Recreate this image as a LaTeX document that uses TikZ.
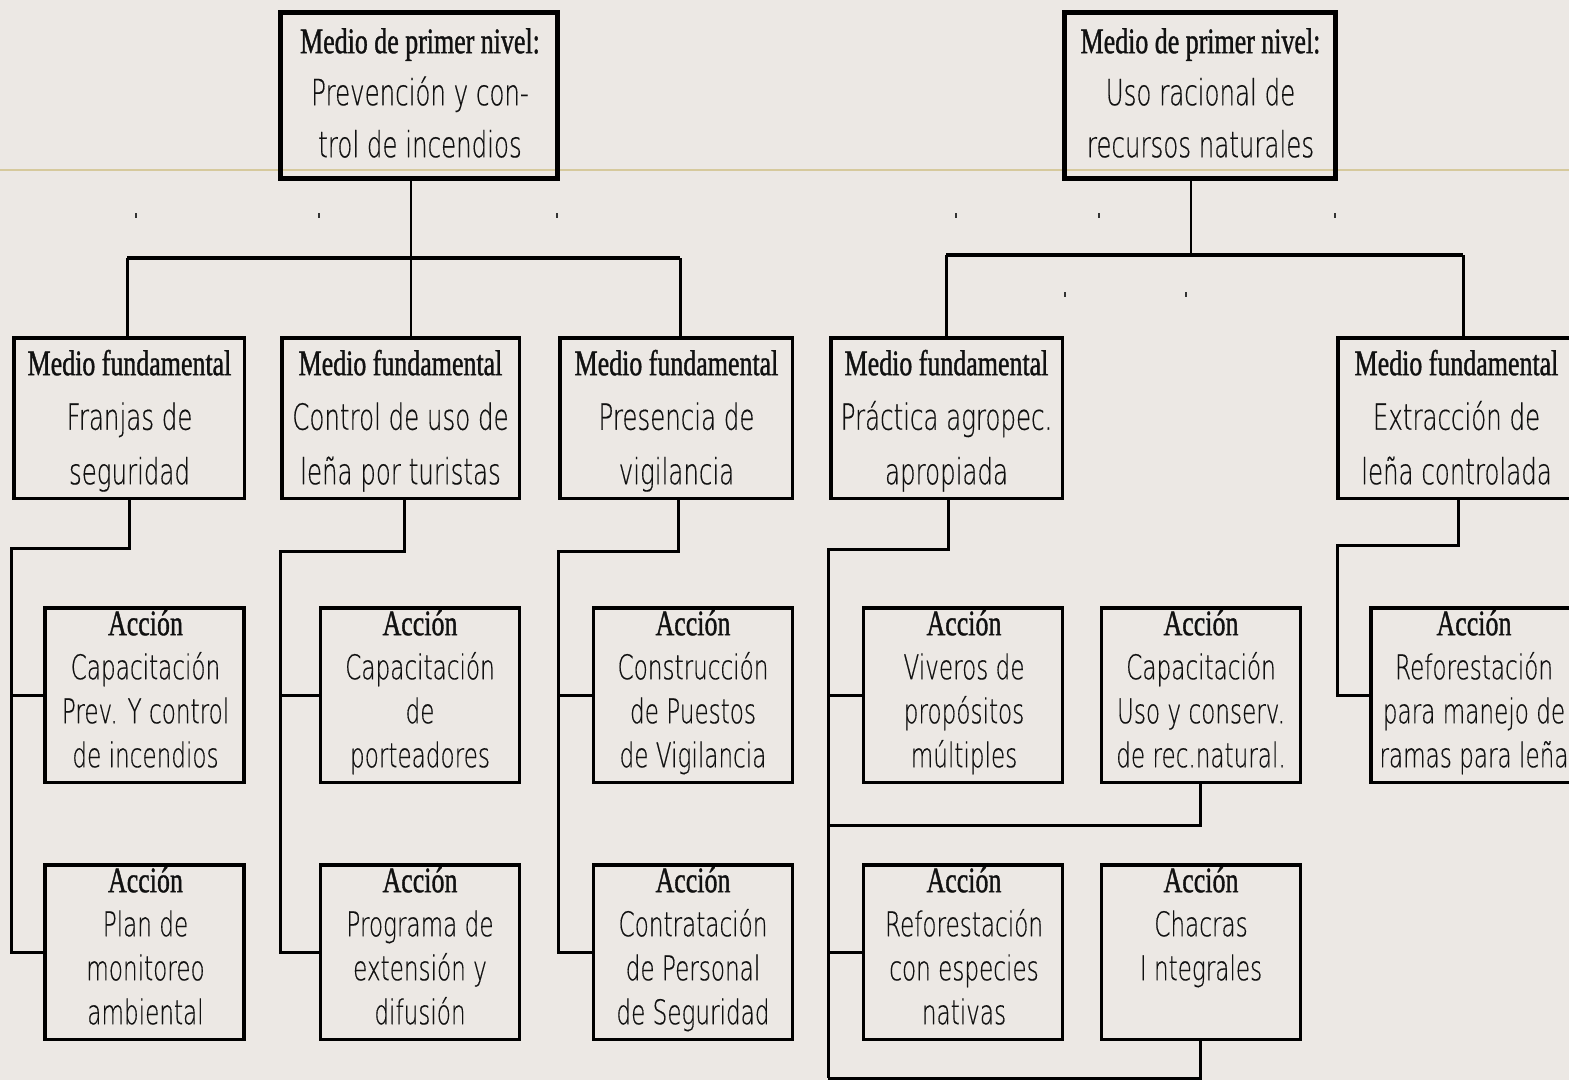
\documentclass[tikz,border=0pt]{standalone}
\usepackage{fontspec}
\IfFontExistsTF{DejaVu Sans ExtraLight}{\newfontfamily\bodyf[FakeStretch=0.68,FakeBold=0.4]{DejaVu Sans ExtraLight}}{\newfontfamily\bodyf[FakeStretch=0.68]{DejaVu Sans}}
\newfontfamily\headf[FakeStretch=0.72,FakeBold=1]{Liberation Serif}
\definecolor{bg}{HTML}{ECE8E4}
\definecolor{rulecol}{HTML}{D6C99C}
\definecolor{ink}{HTML}{111111}
\newcommand{\hd}[1]{{\headf\fontsize{36}{44}\selectfont #1}}
\begin{document}
\begin{tikzpicture}[x=1pt,y=-1pt,
  topbox/.style={draw=black,line width=5pt,inner sep=0pt},
  mfbox/.style={draw=black,line width=3.5pt,inner sep=0pt,minimum height=160.5pt},
  actbox/.style={draw=black,line width=3.5pt,inner sep=0pt,minimum height=174.5pt,minimum width=199pt},
  conn/.style={draw=black,line width=3pt},
  thinconn/.style={draw=black,line width=2.2pt},
  tickmark/.style={draw=black!80,line width=1.3pt},
  toptxt/.style={anchor=north,inner sep=0pt,align=center,text=ink,font=\bodyf\fontsize{36}{52}\selectfont},
  mftxt/.style={anchor=north,inner sep=0pt,align=center,text=ink,font=\bodyf\fontsize{36}{54.5}\selectfont},
  acttxt/.style={anchor=north,inner sep=0pt,align=center,text=ink,font=\bodyf\fontsize{34}{44}\selectfont}
]
\useasboundingbox (0,0) rectangle (1569,1080);
\fill[bg] (0,0) rectangle (1569,1080);
\clip (0,0) rectangle (1569,1080);
\draw[rulecol,line width=1.5pt] (0,170) -- (1569,170);

% tick marks
\draw[tickmark] (136,213) -- ++(0,5);
\draw[tickmark] (319,213) -- ++(0,5);
\draw[tickmark] (557,213) -- ++(0,5);
\draw[tickmark] (956,213) -- ++(0,5);
\draw[tickmark] (1099,213) -- ++(0,5);
\draw[tickmark] (1335,213) -- ++(0,5);
\draw[tickmark] (1065,292) -- ++(0,5);
\draw[tickmark] (1186,292) -- ++(0,5);

% top boxes
\node[topbox,minimum width=277pt,minimum height=166pt] (tl) at (419,95.5) {};
\node[topbox,minimum width=271pt,minimum height=166pt] (tr) at (1200,95.5) {};
\node[toptxt] (tlt) at (420,23) {\rule{0pt}{30pt}{\headf Medio de primer nivel:}\\Prevención y con-\\trol de incendios};
\node[toptxt] (trt) at (1200.5,23) {\rule{0pt}{30pt}{\headf Medio de primer nivel:}\\Uso racional de\\recursos naturales};

% medio fundamental boxes
\node[mfbox,minimum width=230.5pt] (mf1) at (129,418) {};
\node[mfbox,minimum width=237.5pt] (mf2) at (400.5,418) {};
\node[mfbox,minimum width=232.5pt] (mf3) at (676,418) {};
\node[mfbox,minimum width=231.5pt] (mf4) at (946.5,418) {};
\node[mfbox,minimum width=238.5pt] (mf5) at (1457,418) {};
\node[mftxt] (mf1t) at (129.5,345) {\rule{0pt}{30pt}{\headf Medio fundamental}\\Franjas de\\seguridad};
\node[mftxt] (mf2t) at (400.5,345) {\rule{0pt}{30pt}{\headf Medio fundamental}\\Control de uso de\\leña por turistas};
\node[mftxt] (mf3t) at (676.5,345) {\rule{0pt}{30pt}{\headf Medio fundamental}\\Presencia de\\vigilancia};
\node[mftxt] (mf4t) at (946.5,345) {\rule{0pt}{30pt}{\headf Medio fundamental}\\Práctica agropec.\\apropiada};
\node[mftxt] (mf5t) at (1456.5,345) {\rule{0pt}{30pt}{\headf Medio fundamental}\\Extracción de\\leña controlada};

% action boxes
\node[actbox] (a11) at (144.5,695) {};
\node[actbox] (a12) at (144.5,952) {};
\node[actbox] (a21) at (420,695) {};
\node[actbox] (a22) at (420,952) {};
\node[actbox] (a31) at (693,695) {};
\node[actbox] (a32) at (693,952) {};
\node[actbox] (a41) at (963,695) {};
\node[actbox] (a42) at (963,952) {};
\node[actbox] (a43) at (1201,695) {};
\node[actbox] (a44) at (1201,952) {};
\node[actbox,minimum width=205.5pt] (a5) at (1473.5,695) {};

\node[acttxt] (a11t) at (145.5,605) {\rule{0pt}{30pt}\hd{Acción}\\Capacitación\\Prev. Y control\\de incendios};
\node[acttxt] (a12t) at (145.5,862) {\rule{0pt}{30pt}\hd{Acción}\\Plan de\\monitoreo\\ambiental};
\node[acttxt] (a21t) at (420,605) {\rule{0pt}{30pt}\hd{Acción}\\Capacitación\\de\\porteadores};
\node[acttxt] (a22t) at (420,862) {\rule{0pt}{30pt}\hd{Acción}\\Programa de\\extensión y\\difusión};
\node[acttxt] (a31t) at (693,605) {\rule{0pt}{30pt}\hd{Acción}\\Construcción\\de Puestos\\de Vigilancia};
\node[acttxt] (a32t) at (693,862) {\rule{0pt}{30pt}\hd{Acción}\\Contratación\\de Personal\\de Seguridad};
\node[acttxt] (a41t) at (964,605) {\rule{0pt}{30pt}\hd{Acción}\\Viveros de\\propósitos\\múltiples};
\node[acttxt] (a42t) at (964,862) {\rule{0pt}{30pt}\hd{Acción}\\Reforestación\\con especies\\nativas};
\node[acttxt] (a43t) at (1201,605) {\rule{0pt}{30pt}\hd{Acción}\\Capacitación\\Uso y conserv.\\de rec.natural.};
\node[acttxt] (a44t) at (1201,862) {\rule{0pt}{30pt}\hd{Acción}\\Chacras\\I ntegrales};
\node[acttxt] (a5t) at (1474,605) {\rule{0pt}{30pt}\hd{Acción}\\Reforestación\\para manejo de\\ramas para leña};

% top connectors, left tree
\coordinate (hla) at (127,258);
\coordinate (hlb) at (680,258);
\coordinate (hlc) at (411,258);
\draw[conn,line width=3.2pt] (hla) -- (hlb);
\draw[thinconn] (tl.south -| hlc) -- (mf2.north -| hlc);
\draw[conn] (hla) -- (mf1.north -| hla);
\draw[conn] (hlb) -- (mf3.north -| hlb);

% top connectors, right tree
\coordinate (hra) at (946,255);
\coordinate (hrb) at (1463,255);
\coordinate (hrc) at (1191,255);
\draw[conn,line width=3.6pt] (hra) -- (hrb);
\draw[thinconn] (tr.south -| hrc) -- (hrc);
\draw[conn] (hra) -- (mf4.north -| hra);
\draw[conn] (hrb) -- (mf5.north -| hrb);

% column 1
\coordinate (k1) at (11,548);
\draw[conn] (mf1.south) |- (k1) |- (a11.west);
\draw[conn] (a11.west -| k1) |- (a12.west);
% column 2
\coordinate (k2) at (280,551);
\draw[conn] ([xshift=4pt]mf2.south) |- (k2) |- (a21.west);
\draw[conn] (a21.west -| k2) |- (a22.west);
% column 3
\coordinate (k3) at (558,551);
\draw[conn] ([xshift=2pt]mf3.south) |- (k3) |- (a31.west);
\draw[conn] (a31.west -| k3) |- (a32.west);
% column 4
\coordinate (k4) at (828,549);
\coordinate (k4m) at (828,825);
\coordinate (k4b) at (828,1078);
\draw[conn] ([xshift=1.5pt]mf4.south) |- (k4) -- (k4b);
\draw[conn] (a41.west -| k4) -- (a41.west);
\draw[conn] (a42.west -| k4) -- (a42.west);
\draw[conn] ([xshift=-1pt]a43.south) |- (k4m);
\draw[conn] ([xshift=-1pt]a44.south) |- (k4b);
% column 5
\coordinate (k5) at (1337,545);
\draw[conn] ([xshift=1pt]mf5.south) |- (k5) |- (a5.west);
\end{tikzpicture}
\end{document}
